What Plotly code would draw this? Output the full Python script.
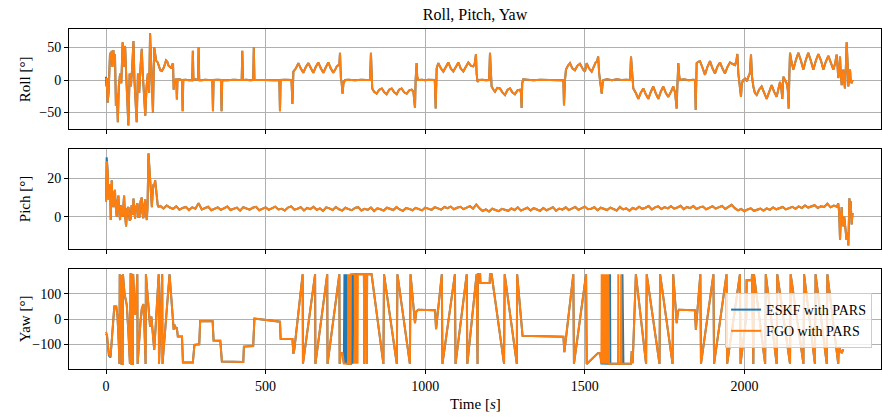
import plotly.graph_objects as go

# ---------------- Roll [deg] (FGO with PARS) ----------------
roll_t = [0, 2, 5, 8, 12.6, 15, 17.8, 20, 23, 26, 28, 31, 34, 37, 40, 44, 48, 52, 55, 58, 60, 63, 66, 70,
          74, 78, 82, 86, 89, 92, 96, 100, 104, 108, 112, 115, 118, 123, 127, 131, 135, 138, 141, 144,
          147, 151, 154, 157, 162, 166, 170, 175, 180, 185, 188, 192, 196, 201, 205, 208, 210, 212, 214,
          217, 220, 222, 224, 227, 232, 238, 240, 242, 250, 260, 270, 272, 274, 280, 288, 290, 292, 300,
          310, 320, 333, 335, 337, 350, 360, 362, 364, 380, 400, 415, 425, 427, 429, 440, 450, 461, 463,
          465, 480, 500, 520, 535, 543, 545, 547, 560, 575, 581, 584, 587, 595, 602.5, 610, 618, 626, 634,
          642, 649.5, 657, 665, 673, 681, 689, 696.5, 704, 712, 718, 723, 731, 733, 736, 738, 741, 744,
          748.7, 760, 780, 800, 815, 827, 830, 832, 834, 840, 848, 856, 864, 872, 879, 887, 895, 903,
          910.6, 918, 926, 934, 942, 950, 957.6, 963, 968, 970, 973, 975, 978.5, 990, 1000, 1010, 1020,
          1030, 1032.8, 1035.9, 1041, 1049, 1056.8, 1064, 1072.4, 1080, 1088, 1096, 1103.8, 1111, 1119.4,
          1127, 1135, 1143, 1150.8, 1155, 1159, 1161, 1164, 1168.5, 1180, 1190, 1200, 1203, 1205, 1208,
          1214, 1218.6, 1226, 1234, 1242, 1250, 1258, 1265.6, 1273, 1281, 1289, 1297, 1300, 1302, 1304,
          1307, 1320, 1340, 1360, 1380, 1400, 1420, 1432.7, 1434.8, 1438, 1441, 1447, 1453.6, 1461, 1469,
          1477, 1485, 1495, 1500.6, 1505.9, 1513, 1521.6, 1528, 1534, 1538, 1542, 1545, 1548, 1553, 1556,
          1558, 1570, 1585, 1600, 1615, 1630, 1641.6, 1644.8, 1648, 1652, 1660, 1667.8, 1675, 1683.4,
          1691, 1699, 1707, 1714.7, 1722, 1730.4, 1738, 1746, 1754, 1761.7, 1770, 1777.4, 1783, 1787.8,
          1790, 1793, 1796, 1798.3, 1810, 1825, 1840, 1845.3, 1847.4, 1850.5, 1855, 1861, 1868, 1876.6,
          1884, 1892.3, 1900, 1908, 1915, 1923.6, 1931, 1939.3, 1947, 1955, 1962, 1970.6, 1975, 1978,
          1981, 1984, 1986, 1989.4, 1992, 1996.7, 2003, 2008, 2012.4, 2017, 2020.7, 2024, 2028, 2033,
          2038.5, 2046, 2054, 2062, 2069.8, 2078, 2085.5, 2093, 2101, 2106, 2111.6, 2115, 2118.9, 2122,
          2127, 2132.5, 2136, 2138.7, 2141, 2142.9, 2147, 2153.4, 2161, 2169, 2177, 2184.7, 2192, 2200,
          2208, 2216, 2224, 2231.7, 2240, 2247.3, 2255, 2263, 2270, 2278.7, 2284, 2289, 2292, 2294, 2297,
          2299.6, 2302, 2304.8, 2307, 2310, 2312, 2315, 2318, 2320.4, 2323, 2325.7, 2328, 2331, 2333,
          2336, 2339]
roll_fgo = [0, 3, -35, -20, 42, 30, 45, 20, 46, 25, 40, -40, -20, -65, -10, 10, -5, 58, 20, 52, 50, 10,
            -20, -70, 10, -10, 20, 60, 0, -30, -65, 10, -20, 20, 48, 10, -20, -55, -10, 10, -20, 72, 30,
            -10, -50, 50, 40, 30, 27, 20, 15, 14, 18, 25, 30, 28, 22, 20, 18, 25, 24, -15, 0, -2, 2, -30,
            2, 0, 1, -1, -48, 0, 0.5, -0.5, 0, 45, 0, 1, 0, 50, 0, -0.5, 0.5, 0, 0, -48, 0, 0.5, 0, -48,
            0, -0.5, 0.5, 0, 0, 45, 0, 0.5, -0.5, 0, 50, 0, 0.5, 0, -0.5, 0, 0, -48, 0, 0.5, 0, 0, -37,
            13, 18, 26, 18, 11, 20, 26, 18, 11, 20, 27, 18, 11, 20, 27, 18, 11, 16, 21, 24, 42, 2, -3,
            -21, -5, 0, 0.5, -0.5, 0.5, 0, 0, 42, 5, -13, -18, -21, -15, -13, -19, -22, -15, -13, -19,
            -22, -15, -13, -19, -21, -16, -15, -18, -43, 0, 26, 5, 0, 0.5, -0.5, 0.5, 0, 0, -44, 18, 26,
            18, 13, 20, 27, 18, 13, 20, 27, 18, 13, 20, 27, 22, 21, 25, 40, 10, -3, 0, 0.5, -0.5, 0, 42,
            10, -10, -15, -18, -12, -13, -19, -23, -15, -13, -19, -22, -16, -15, -20, -43, -5, 1, 0.5,
            -0.5, 0.5, 0, 0.5, -0.5, 0, -39, 0, 16, 22, 26, 18, 15, 22, 25, 16, 13, 26, 18, 13, 20, 27,
            28, 36, 10, 0, -21, -5, 0, 1, -0.5, 1, 0, 0.5, 0, 36, 5, -13, -20, -29, -20, -13, -22, -29,
            -18, -10, -20, -29, -18, -10, -20, -26, -18, -10, -20, -44, -10, 26, 5, 0, 1, -0.5, 0.5, 0,
            -46, 26, 28, 29, 20, 8, 20, 29, 18, 10, 20, 27, 18, 10, 20, 27, 25, 23, 30, 40, 10, 0, -10,
            -26, -5, 0, 2, -2, 5, 10, 39, 5, -10, -20, -23, -15, -10, -20, -29, -18, -8, -18, -26, -15,
            -3, -10, -29, 5, 0, -5, -15, -44, 10, 42, 30, 16, 30, 42, 30, 16, 30, 42, 30, 16, 30, 40, 30,
            16, 28, 37, 28, 16, 25, 39, 20, 3, 10, 36, 10, -8, 5, 16, 0, -13, 20, 58, 30, -10, 5, 16, 0,
            -5, 0]
# ESKF with PARS differs only in the first couple of seconds
roll_eskf_t = [0, 1, 2]
roll_eskf = [5, -10, 3]

# ---------------- Pitch [deg] ----------------
pitch_t_start = [0, 2, 3.5, 5, 6.5, 8, 10, 12.6, 14.7, 16, 17.8, 20, 23, 25, 28, 30, 33.5, 36, 38.8, 41,
                 44, 46, 49, 52, 56.6, 59, 62.9, 66, 70.2, 74, 77.6, 80, 83, 86, 88, 91, 94, 98.5, 101,
                 104.8, 108, 112, 114, 117, 120, 122.6, 125, 127.9, 130, 133, 135, 138, 141, 143.6, 146,
                 148.8, 151, 154, 157, 159, 162, 164.5]
pitch_start = [8, 29, 27, 24, 10, 8.7, 14, 17, -1.7, 10, 19, 8, 5, 12, 14, 6, 0, 8, 11, 3, -1.7, 6, 4, 0,
               11, 2, -5, 4, 5, -2, -1, 6, 1, 9.5, 3, -1, 5, 7, 0, 0, 8, 10, 2, -0.8, 6, 9, 2, -1.7, 5,
               33, 28, 17, 10, 5, 12, 17, 16, 19, 14, 10, 6, 5.2]
pitch_t_cruise = list(range(170, 2291, 10))
pitch_cruise = [5.6, 4.3, 5.9, 4.8, 4.1, 5.4, 3.7, 4.6, 5.1, 3.5,
                4.9, 4.2, 7.1, 3.8, 4.5, 5.2, 3.4, 4.0, 4.9, 3.6,
                4.4, 5.3, 3.5, 4.1, 4.8, 3.2, 5.0, 4.3, 3.7, 4.7,
                5.2, 3.4, 4.0, 4.9, 3.6, 4.5, 5.3, 3.8, 4.2, 3.3,
                4.8, 5.4, 3.7, 4.2, 5.0, 3.3, 4.6, 4.0, 5.2, 3.6,
                4.3, 3.1, 4.9, 4.4, 3.5, 5.1, 3.9, 3.2, 4.7, 4.0,
                3.4, 4.6, 5.0, 3.3, 4.1, 3.6, 4.8, 3.0, 4.4, 3.9,
                3.2, 4.7, 4.0, 3.5, 5.0, 3.8, 3.1, 4.5, 4.1, 3.4,
                4.6, 3.9, 3.3, 4.8, 4.2, 3.6, 5.0, 4.4, 3.7, 5.1,
                4.5, 5.3, 3.9, 4.7, 5.2, 4.0, 4.8, 5.5, 4.3, 6.4,
                4.4, 3.0, 3.8, 2.7, 4.2, 3.4, 2.9, 4.1, 3.6, 3.1,
                4.3, 3.5, 4.9, 3.2, 4.0, 4.7, 3.3, 4.5, 3.8, 3.1,
                4.6, 3.4, 4.1, 5.0, 3.2, 4.3, 3.7, 4.9, 3.5, 4.4,
                5.1, 3.6, 4.5, 5.3, 3.9, 4.2, 5.0, 3.4, 4.7, 4.0,
                3.5, 4.8, 4.2, 3.3, 5.1, 3.8, 4.4, 3.1, 4.6, 3.9,
                5.2, 4.1, 4.7, 5.6, 3.8, 4.9, 5.4, 4.0, 5.0, 4.4,
                5.5, 4.2, 4.8, 5.7, 3.9, 5.1, 4.5, 5.6, 4.0, 4.9,
                5.3, 3.9, 4.6, 5.5, 4.2, 4.8, 5.7, 4.1, 5.0, 6.2,
                4.5, 3.3, 4.1, 2.9, 3.8, 4.4, 3.1, 3.7, 4.2, 3.2,
                4.4, 3.6, 4.9, 3.9, 4.5, 5.1, 3.8, 4.7, 5.2, 4.1,
                5.4, 4.5, 5.9, 4.8, 5.3, 6.0, 4.6, 5.5, 5.1, 6.8,
                4.9, 5.8, 5.2]
pitch_t_end = [2294, 2297, 2299.6, 2302, 2304.8, 2307, 2310, 2313, 2315, 2318, 2320, 2323, 2325.7, 2327,
               2329, 2331, 2333, 2336, 2339]
pitch_end = [7, 2, -12, -2, 5, -3, -5, 0, -4, -8, -12, -8, -15, -5, 9.6, 5, 8, -4, 2]
pitch_eskf_t = [0, 2, 3.5]
pitch_eskf = [8, 31, 28]

# ---------------- Yaw [deg] ----------------
yaw_t = [0, 3, 9, 14, 18, 22, 26, 32, 36, 40, 42, 43, 45, 48, 49, 52, 53, 58, 65, 70, 75, 77, 79, 80, 84,
         85, 91, 95, 98, 99, 104, 108, 112, 117, 120, 124, 125, 130, 134, 138, 142, 146, 151, 155, 160,
         165, 166, 170, 176, 177, 190, 199, 212, 214, 219, 222, 225, 238, 241, 272, 277, 292, 295, 334,
         337, 358, 363, 430, 432, 461, 465, 500, 545, 547, 584, 587, 590, 616, 617, 655, 656, 693, 694,
         731, 732, 735, 741, 745, 758, 759, 760, 762, 763, 766, 767, 779, 780, 782, 785, 786, 788, 789,
         800, 808, 809, 810, 816, 817, 818, 832, 869, 871, 911, 913, 952, 954, 968, 972, 978, 1031, 1034,
         1052, 1054, 1093, 1095, 1130, 1132, 1161, 1162, 1164, 1165, 1172, 1173, 1202, 1203, 1208, 1247,
         1249, 1287, 1288, 1305, 1433, 1436, 1464, 1466, 1504, 1506, 1541, 1548, 1552, 1553, 1555, 1557,
         1559, 1561, 1563, 1565, 1567, 1569, 1571, 1574, 1576, 1604, 1605, 1606, 1613, 1614, 1615, 1645,
         1647, 1650, 1660, 1692, 1694, 1734, 1736, 1775, 1777, 1788, 1792, 1795, 1845, 1848, 1862, 1864,
         1903, 1905, 1944, 1946, 1986, 1988, 2006, 2007, 2023, 2024, 2028, 2030, 2065, 2067, 2101, 2103,
         2143, 2145, 2185, 2187, 2221, 2223, 2258, 2260, 2294, 2296, 2305, 2310, 2315, 2320]
yaw_fgo = [-50, -62, -140, -148, -85, 0, 50, 50, 10, -100, -178, 178, 120, 175, -178, -178, 178, 100, 57,
           -50, -178, 178, 178, -178, -178, 178, 17, 80, 178, -178, -60, -10, 40, 60, -20, -178, 178,
           100, 40, -30, 10, -60, -122, -40, 60, 178, -178, -60, 178, -178, 20, 178, -42, -22, -36, -36,
           -69, -69, -172, -172, -102, -100, -7, -8, -85, -86, -168, -170, -109, -107, 2, -4, -10, -78,
           -79, -138, -120, 178, -178, 178, -178, 178, -178, 178, -178, -135, -135, -176, -177, 178, -177,
           178, -177, -177, 178, 178, -177, 178, -177, 178, -177, 178, 178, 178, -177, 178, 178, -177,
           178, 178, -178, 178, -178, 178, -178, 178, -16, 30, 37, 35, -40, 178, -178, 178, -178, 178,
           -178, 178, -178, -178, 178, 178, 143, 143, 178, 178, -178, 178, -178, 178, -66, -70, -131,
           178, -178, 178, -178, -135, -135, -176, 178, -177, 178, -177, 178, -177, 178, -177, 178, -177,
           178, -177, -177, 178, -177, -177, 178, -177, -177, -127, -175, 178, -178, 178, -178, 178,
           -178, 178, -16, 30, 37, 35, -42, 178, -178, 178, -178, 178, -178, 178, -178, 10, 154, 154,
           178, -178, 178, -178, 178, -178, 178, -178, 178, -178, 178, -178, 178, -178, 178, -178, -110,
           -135, -120]
# ESKF with PARS: differs around the +/-180 deg flips and at the very start
yaw_eskf_patches = [
    ([0, 3, 9, 14], [-58, -65, -145, -152]),
    ([745, 747, 748, 749, 750, 752, 753, 754, 756, 768, 769, 770, 772, 773, 775, 789],
     [-176, 178, -177, 178, -177, 178, -177, 178, -177, -177, 178, -177, 178, -177, 178, 178]),
    ([1552, 1576, 1577, 1578, 1579, 1580, 1617, 1618, 1619, 1620, 1621, 1645],
     [-176, -177, 178, -177, 178, -177, -177, 178, -177, 178, -177, -177]),
]

BLUE = "#1f77b4"
ORANGE = "#ff7f0e"
FONT = "Liberation Serif, Times New Roman, serif"
LINE_W = 2


def splice(t, v, patches):
    """Replace the samples of (t, v) inside each patch window by the patch samples."""
    out = list(zip(t, v))
    for pt, pv in patches:
        lo, hi = min(pt), max(pt)
        out = [p for p in out if not (lo <= p[0] <= hi)] + list(zip(pt, pv))
    out.sort(key=lambda p: p[0])
    return [p[0] for p in out], [p[1] for p in out]


pitch_t = pitch_t_start + pitch_t_cruise + pitch_t_end
pitch_fgo = pitch_start + pitch_cruise + pitch_end

roll_eskf_tt, roll_eskf_v = splice(roll_t, roll_fgo, [(roll_eskf_t, roll_eskf)])
pitch_eskf_tt, pitch_eskf_v = splice(pitch_t, pitch_fgo, [(pitch_eskf_t, pitch_eskf)])
yaw_eskf_tt, yaw_eskf_v = splice(yaw_t, yaw_fgo, yaw_eskf_patches)

fig = go.Figure()

panels = [
    ("", "y", roll_eskf_tt, roll_eskf_v, roll_t, roll_fgo),
    ("2", "y2", pitch_eskf_tt, pitch_eskf_v, pitch_t, pitch_fgo),
    ("3", "y3", yaw_eskf_tt, yaw_eskf_v, yaw_t, yaw_fgo),
]
for i, (sfx, yref, te, ve, tf, vf) in enumerate(panels):
    fig.add_trace(go.Scatter(x=te, y=ve, mode="lines", line=dict(color=BLUE, width=LINE_W),
                             name="ESKF with PARS", showlegend=(i == 2),
                             xaxis="x" + sfx, yaxis=yref))
    fig.add_trace(go.Scatter(x=tf, y=vf, mode="lines", line=dict(color=ORANGE, width=LINE_W),
                             name="FGO with PARS", showlegend=(i == 2),
                             xaxis="x" + sfx, yaxis=yref))

x_range = [-116, 2428]
axis_common = dict(showline=True, linecolor="black", linewidth=1, mirror=True,
                   ticks="outside", ticklen=4, tickwidth=1, tickcolor="black",
                   showgrid=True, gridcolor="#b0b0b0", gridwidth=1, zeroline=False,
                   tickfont=dict(family=FONT, size=14, color="black"))

xticks = [0, 500, 1000, 1500, 2000]
fig.update_layout(
    xaxis=dict(axis_common, range=x_range, tickvals=xticks, showticklabels=False, anchor="y",
               domain=[0, 1]),
    xaxis2=dict(axis_common, range=x_range, tickvals=xticks, showticklabels=False, anchor="y2",
                matches="x", domain=[0, 1]),
    xaxis3=dict(axis_common, range=x_range, tickvals=xticks, anchor="y3", matches="x",
                domain=[0, 1]),
    yaxis=dict(axis_common, range=[-75.4, 78.5], tickvals=[-50, 0, 50],
               ticktext=["\u221250", "0", "50"], domain=[0.7059, 1], anchor="x"),
    yaxis2=dict(axis_common, range=[-16.8, 35.3], tickvals=[0, 20], ticktext=["0", "20"],
                domain=[0.3529, 0.6471], anchor="x2"),
    yaxis3=dict(axis_common, range=[-198, 199], tickvals=[-100, 0, 100],
                ticktext=["\u2212100", "0", "100"], domain=[0, 0.2941], anchor="x3"),
)

fig.update_layout(
    width=882, height=417,
    margin=dict(l=69, r=1, t=29, b=48),
    paper_bgcolor="white", plot_bgcolor="white",
    font=dict(family=FONT, size=14, color="black"),
    title=dict(text="Roll, Pitch, Yaw", x=(69 + 881) / 2 / 882, xanchor="center",
               y=1 - 14 / 417, yanchor="middle", font=dict(family=FONT, size=16, color="black")),
    showlegend=True,
    legend=dict(x=0.808, y=0.2235, xanchor="left", yanchor="top",
                bgcolor="rgba(255,255,255,0.8)", bordercolor="#cccccc", borderwidth=1,
                font=dict(family=FONT, size=14, color="black"), tracegroupgap=0,
                itemwidth=30),
    annotations=[
        dict(text="Roll [°]", xref="paper", yref="paper", x=-0.054, y=(0.7059 + 1) / 2,
             textangle=-90, showarrow=False, xanchor="center", yanchor="middle",
             font=dict(family=FONT, size=15)),
        dict(text="Pich [°]", xref="paper", yref="paper", x=-0.054, y=0.5,
             textangle=-90, showarrow=False, xanchor="center", yanchor="middle",
             font=dict(family=FONT, size=15)),
        dict(text="Yaw [°]", xref="paper", yref="paper", x=-0.054, y=0.2941 / 2,
             textangle=-90, showarrow=False, xanchor="center", yanchor="middle",
             font=dict(family=FONT, size=15)),
        dict(text="Time [<i>s</i>]", xref="paper", yref="paper", x=(475 - 69) / 812,
             y=-35 / 340, showarrow=False, xanchor="center", yanchor="middle",
             font=dict(family=FONT, size=15)),
    ],
)

fig.write_html("out.html")
